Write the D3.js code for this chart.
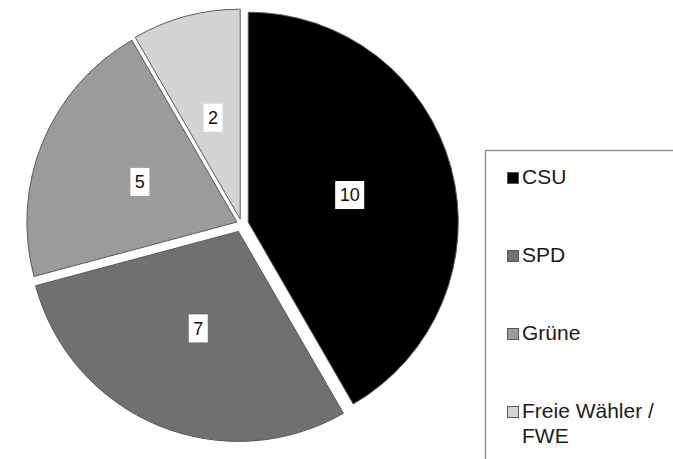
<!DOCTYPE html>
<meta charset="utf-8">
<title>Sitzverteilung</title>
<style>

body {
  margin: 0;
  background: #fff;
}

.slices path {
  stroke: #5a5a5a;
  stroke-width: 1px;
}

.labels text {
  font: 18px "Liberation Sans", Arial, sans-serif;
  fill: #111;
}

.legend text {
  font: 21px "Liberation Sans", Arial, sans-serif;
  fill: #1a1a1a;
}

</style>
<svg width="673" height="459"></svg>
<script src="https://cdn.jsdelivr.net/npm/d3@7"></script>
<script>

var parties = ["CSU", "SPD", "Grüne", "Freie Wähler / FWE"];
var seats = [10, 7, 5, 2];
var legendLines = [["CSU"], ["SPD"], ["Grüne"], ["Freie Wähler /", "FWE"]];
var fills = ["#000000", "#707070", "#9b9b9b", "#d3d4d4"];
var explode = [7, 8, 5, 5];

var svg = d3.select("svg"),
    width = +svg.attr("width"),
    height = +svg.attr("height");

var cx = 241.5,
    cy = 224,
    radius = 210;

var color = d3.scaleOrdinal().domain(parties).range(fills);

var pie = d3.pie()
    .sort(null)
    .value(function(d, i) { return seats[i]; });

var arc = d3.arc()
    .innerRadius(0)
    .outerRadius(radius);

var arcs = pie(parties);

// every slice is pulled out a bit along its middle angle
function shift(d, i) {
  var a = (d.startAngle + d.endAngle) / 2;
  return [Math.sin(a) * explode[i], -Math.cos(a) * explode[i]];
}

var g = svg.append("g")
    .attr("transform", "translate(" + cx + "," + cy + ")");

g.append("g")
    .attr("class", "slices")
  .selectAll("path")
  .data(arcs)
  .enter().append("path")
    .attr("transform", function(d, i) { var s = shift(d, i); return "translate(" + s[0] + "," + s[1] + ")"; })
    .attr("fill", function(d) { return color(d.data); })
    .attr("d", arc);

var label = g.append("g")
    .attr("class", "labels")
  .selectAll("g")
  .data(arcs)
  .enter().append("g")
    .attr("transform", function(d, i) {
      var c = arc.centroid(d), s = shift(d, i);
      return "translate(" + (c[0] + s[0]) + "," + (c[1] + s[1]) + ")";
    });

var text = label.append("text")
    .attr("text-anchor", "middle")
    .attr("dy", "0.36em")
    .text(function(d, i) { return seats[i]; });

label.insert("rect", "text")
    .attr("fill", "#fff")
    .each(function(d, i) {
      var w = text.nodes()[i].getComputedTextLength() + 9;
      d3.select(this)
          .attr("x", -w / 2)
          .attr("y", -14)
          .attr("width", w)
          .attr("height", 28);
    });

// legend (box runs off the right and bottom edge like in the original)
var legend = svg.append("g")
    .attr("class", "legend");

legend.append("rect")
    .attr("x", 485.5)
    .attr("y", 150.5)
    .attr("width", 220)
    .attr("height", 340)
    .attr("fill", "#fff")
    .attr("stroke", "#8a8a8a")
    .attr("stroke-width", 1.3);

var y = d3.scalePoint()
    .domain(parties)
    .range([172, 406]);

var item = legend.selectAll(".item")
  .data(parties)
  .enter().append("g")
    .attr("class", "item")
    .attr("transform", function(d) { return "translate(507," + y(d) + ")"; });

item.append("rect")
    .attr("x", 0.5)
    .attr("y", 0.5)
    .attr("width", 11)
    .attr("height", 11)
    .attr("fill", function(d) { return color(d); })
    .attr("stroke", "#555");

item.append("text")
    .attr("x", 15)
  .selectAll("tspan")
  .data(function(d, i) { return legendLines[i]; })
  .enter().append("tspan")
    .attr("x", 15)
    .attr("y", function(d, j) { return 12 + j * 25; })
    .text(function(d) { return d; });

</script>
